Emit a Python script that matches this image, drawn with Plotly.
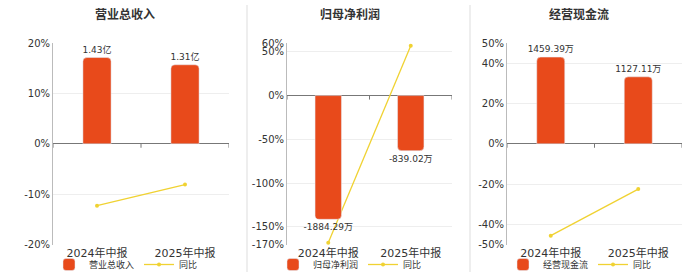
import plotly.graph_objects as go

categories = ["2024年中报", "2025年中报"]

titles = ["营业总收入", "归母净利润", "经营现金流"]

revenue_values = [1.43, 1.31]          # 亿
revenue_labels = ["1.43亿", "1.31亿"]
revenue_yoy = [-12.3, -8.1]            # %

profit_values = [-1884.29, -839.02]    # 万
profit_labels = ["-1884.29万", "-839.02万"]
profit_yoy = [-168.0, 57.0]

cash_values = [1459.39, 1127.11]       # 万
cash_labels = ["1459.39万", "1127.11万"]
cash_yoy = [-45.6, -22.5]

pct_ticks_1 = [20, 10, 0, -10, -20]
pct_ticks_2 = [60, 50, 0, -50, -100, -150, -170]
pct_ticks_3 = [50, 40, 20, 0, -20, -40, -50]

BAR = "#E84A1B"
LINE = "#F0D232"
FONT = "DejaVu Sans, Noto Sans CJK SC, sans-serif"
W, H = 700, 272

panels = [
    dict(vals=revenue_values, labels=revenue_labels, yoy=revenue_yoy, ticks=pct_ticks_1,
         px=(53, 229), bar_range=(-1.671, 1.671), title_x=125, legend_x=126),
    dict(vals=profit_values, labels=profit_labels, yoy=profit_yoy, ticks=pct_ticks_2,
         px=(287, 452), bar_range=(-2268, 801), title_x=350, legend_x=350),
    dict(vals=cash_values, labels=cash_labels, yoy=cash_yoy, ticks=pct_ticks_3,
         px=(507, 682), bar_range=(-1697, 1697), title_x=579, legend_x=580),
]

ytop, ybot = 43, 244.5
ydom = [1 - ybot / H, 1 - ytop / H]

fig = go.Figure()
layout = dict(width=W, height=H, margin=dict(l=0, r=0, t=0, b=0, autoexpand=False),
              paper_bgcolor="white", plot_bgcolor="white",
              font=dict(family=FONT, color="#333"), showlegend=True)
shapes = []
annotations = []

for i, p in enumerate(panels):
    n = i + 1
    xa = "x" if n == 1 else f"x{n}"
    ya_pct = f"y{2*n-1}" if n > 1 else "y"
    ya_bar = f"y{2*n}"
    lg = "legend" if n == 1 else f"legend{n}"
    xdom = [p["px"][0] / W, p["px"][1] / W]

    fig.add_trace(go.Bar(
        x=categories, y=p["vals"], name=titles[i], xaxis=xa, yaxis=ya_bar,
        marker=dict(color=BAR, cornerradius=4), width=0.32,
        text=p["labels"], textposition="outside", cliponaxis=False, constraintext="none",
        textfont=dict(size=9, color="#333"), legend=lg, hoverinfo="skip"))
    fig.add_trace(go.Scatter(
        x=categories, y=p["yoy"], name="同比", xaxis=xa, yaxis=ya_pct,
        mode="lines+markers", line=dict(color=LINE, width=1.3),
        marker=dict(color=LINE, size=4), legend=lg, cliponaxis=False))

    xkey = "xaxis" if n == 1 else f"xaxis{n}"
    ypkey = "yaxis" if n == 1 else f"yaxis{2*n-1}"
    ybkey = f"yaxis{2*n}"
    layout[xkey] = dict(domain=xdom, anchor=ya_pct, type="category", range=[-0.5, 1.5],
                        showgrid=False, showline=False, ticks="", zeroline=False,
                        tickfont=dict(size=11, color="#333"), ticklabelstandoff=0)
    t = p["ticks"]
    layout[ypkey] = dict(domain=ydom, anchor=xa, range=[min(t), max(t)],
                         tickvals=t, ticktext=[f"{v}%" for v in t],
                         showgrid=True, gridcolor="#eeeeee", gridwidth=1,
                         zeroline=True, zerolinecolor="#777", zerolinewidth=1,
                         showline=True, linecolor="#bbbbbb", linewidth=1,
                         ticks="", tickfont=dict(size=10, color="#333"))
    layout[ybkey] = dict(domain=ydom, anchor=xa, overlaying=ya_pct, range=list(p["bar_range"]),
                         visible=False, showgrid=False, zeroline=False)
    layout[lg] = dict(orientation="h", x=p["legend_x"] / W, xanchor="center",
                      y=1 - 264.5 / H, yanchor="middle", font=dict(size=9, color="#333"),
                      bgcolor="rgba(0,0,0,0)", itemwidth=30, tracegroupgap=0)

    # ticks on the zero axis line at category boundaries
    for xb in [-0.5, 0.5, 1.5]:
        shapes.append(dict(type="line", xref=xa, yref=ya_pct, x0=xb, x1=xb,
                           ysizemode="pixel", yanchor=0, y0=0, y1=-4,
                           line=dict(color="#777", width=1)))
    annotations.append(dict(text=f"<b>{titles[i]}</b>", x=p["title_x"] / W, y=1 - 14 / H,
                            xref="paper", yref="paper", showarrow=False,
                            xanchor="center", yanchor="middle",
                            font=dict(size=12, color="#333")))

for sx in [247, 470]:
    shapes.append(dict(type="line", xref="paper", yref="paper", x0=sx / W, x1=sx / W,
                       y0=0, y1=1 - 5 / H, line=dict(color="#dddddd", width=1)))

layout["shapes"] = shapes
layout["annotations"] = annotations
fig.update_layout(**layout)
fig.write_html("out.html")
